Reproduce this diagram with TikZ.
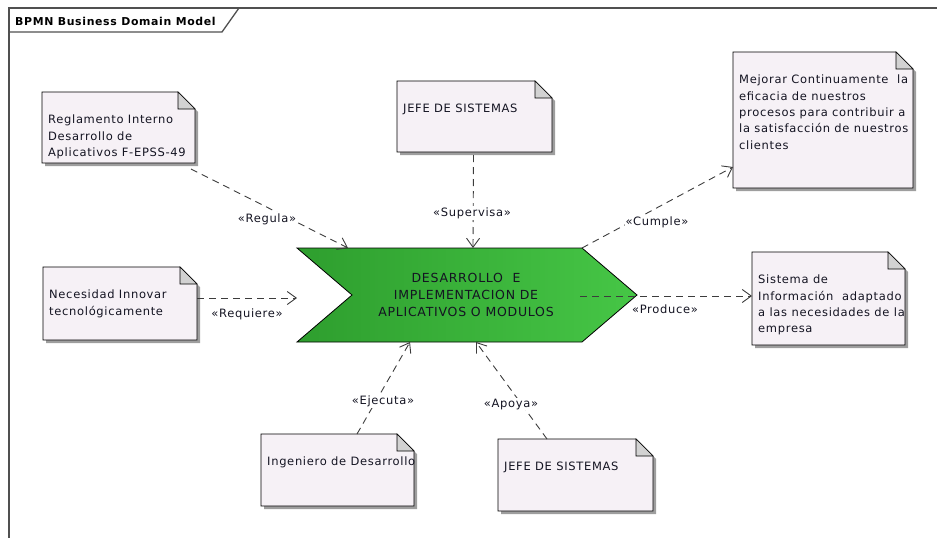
\documentclass[tikz,border=0pt]{standalone}
\usepackage{fontspec}
\setmainfont{DejaVu Sans}[LetterSpace=6]
\usetikzlibrary{arrows.meta,calc}

\definecolor{notefill}{HTML}{F6F1F6}
\definecolor{notefoldc}{HTML}{D2D2D2}
\definecolor{noteshadowc}{HTML}{9E9E9E}
\definecolor{linec}{HTML}{3C3C3C}
\definecolor{framec}{HTML}{505050}
\definecolor{textc}{HTML}{141422}
\definecolor{greenleft}{HTML}{2E9E2E}
\definecolor{greenright}{HTML}{46C646}

\tikzset{
  notearea/.style={draw=none, inner sep=0, outer sep=0, rectangle},
  notebody/.style={fill=notefill, draw=black, line width=0.9pt, line join=miter},
  notefold/.style={fill=notefoldc, draw=black, line width=0.6pt},
  noteshadow/.style={fill=noteshadowc},
  notetext/.style={anchor=north west, inner sep=0, align=left, text=textc,
                   font=\fontsize{11.5}{16.3}\selectfont},
  dep/.style={draw=linec, line width=0.9pt, dash pattern=on 7pt off 5pt,
              -{Straight Barb[length=9pt,width=13pt,line width=0.9pt]}},
  deplabel/.style={fill=white, inner sep=1pt, text=textc,
                   font=\fontsize{11.5}{13}\selectfont},
  framestyle/.style={draw=framec, line width=1.3pt},
}

% note with folded corner: name, left, top, right, bottom, text
\newcommand\notebox[6]{%
  \fill[noteshadow] ({#2+3},{#3+3}) -- ({#4-17+3},{#3+3}) -- ({#4+3},{#3+17+3})
    -- ({#4+3},{#5+3}) -- ({#2+3},{#5+3}) -- cycle;
  \node[notearea, minimum width={#4-#2}, minimum height={#5-#3}, anchor=north west] (#1) at (#2,#3) {};
  \filldraw[notebody] (#1.north west) -- ($(#1.north east)+(-17,0)$) -- ($(#1.north east)+(0,17)$)
    -- (#1.south east) -- (#1.south west) -- cycle;
  \filldraw[notefold] ($(#1.north east)+(-17,0)$) -- ($(#1.north east)+(-17,17)$)
    -- ($(#1.north east)+(0,17)$) -- cycle;
  \node[notetext] (#1-text) at ($(#1.north west)+(6,23)$) {#6};
}

\begin{document}
\begin{tikzpicture}[x=1pt, y=-1pt]
\useasboundingbox (0,0) rectangle (937,538);

% diagram frame with title tab
\draw[framestyle] (9,538) -- (9,8) -- (937,8);
\draw[framestyle] (9,32) -- (222,32) -- (239,8);
\node[anchor=west, inner sep=0, font=\fontsize{10.9}{13}\bfseries\selectfont] (title) at (15,21) {BPMN Business Domain Model};

% central process step
\node[notearea, minimum width=340, minimum height=94, anchor=north west] (chev) at (297,248) {};
\shade[left color=greenleft, right color=greenright, draw=black, line width=0.8pt]
  (chev.north west) -- ($(chev.north east)+(-55,0)$) -- (chev.east) -- ($(chev.south east)+(-55,0)$)
  -- (chev.south west) -- ($(chev.west)+(55,0)$) -- cycle;
\node[align=center, inner sep=0, text=textc, font=\fontsize{12.5}{16.8}\selectfont] (chevtext) at (466,295)
  {DESARROLLO\ \ E\\IMPLEMENTACION DE\\APLICATIVOS O MODULOS};

% notes
\notebox{regl}{42}{92}{195}{163}{Reglamento Interno\\Desarrollo de\\Aplicativos F-EPSS-49}
\notebox{jefetop}{397}{81}{552}{152}{JEFE DE SISTEMAS}
\notebox{mejor}{733}{52}{913}{188}{Mejorar Continuamente\ \ la\\eficacia de nuestros\\procesos para contribuir a\\la satisfacción de nuestros\\clientes}
\notebox{neces}{43}{267}{197}{340}{Necesidad Innovar\\tecnológicamente}
\notebox{sist}{752}{252}{905}{345}{Sistema de\\Información\ \ adaptado\\a las necesidades de la\\empresa}
\notebox{inge}{261}{434}{414}{506}{Ingeniero de Desarrollo}
\notebox{jefebot}{498}{439}{653}{511}{JEFE DE SISTEMAS}

% dependencies
\draw[dep] ($(regl.south east)+(-4,6)$) -- ($(chev.north west)+(51,0)$);
\draw[dep] ($(jefetop.south)+(-1,3)$) -- ($(chev.north west)+(176,0)$);
\draw[dep] ($(chev.north east)+(-55,0)$) -- ($(mejor.south west)+(0,-21)$);
\draw[dep] ($(neces.north east)+(0,31)$) -- ($(chev.north west)+(0,50)$);
\draw[dep] ($(chev.east)+(-57,1)$) -- ($(sist.north west)+(0,44)$);
\draw[dep] ($(inge.north west)+(96,0)$) -- ($(chev.south west)+(113,0)$);
\draw[dep] ($(jefebot.north west)+(49,0)$) -- ($(chev.south west)+(179,0)$);

% stereotype labels
\node[deplabel] (lregula) at (267,219) {«Regula»};
\node[deplabel] (lsupervisa) at (472,213) {«Supervisa»};
\node[deplabel] (lcumple) at (657,222) {«Cumple»};
\node[deplabel] (lrequiere) at (247,314) {«Requiere»};
\node[deplabel] (lproduce) at (665,309) {«Produce»};
\node[deplabel] (lejecuta) at (383,401) {«Ejecuta»};
\node[deplabel] (lapoya) at (511,404) {«Apoya»};
\end{tikzpicture}
\end{document}
